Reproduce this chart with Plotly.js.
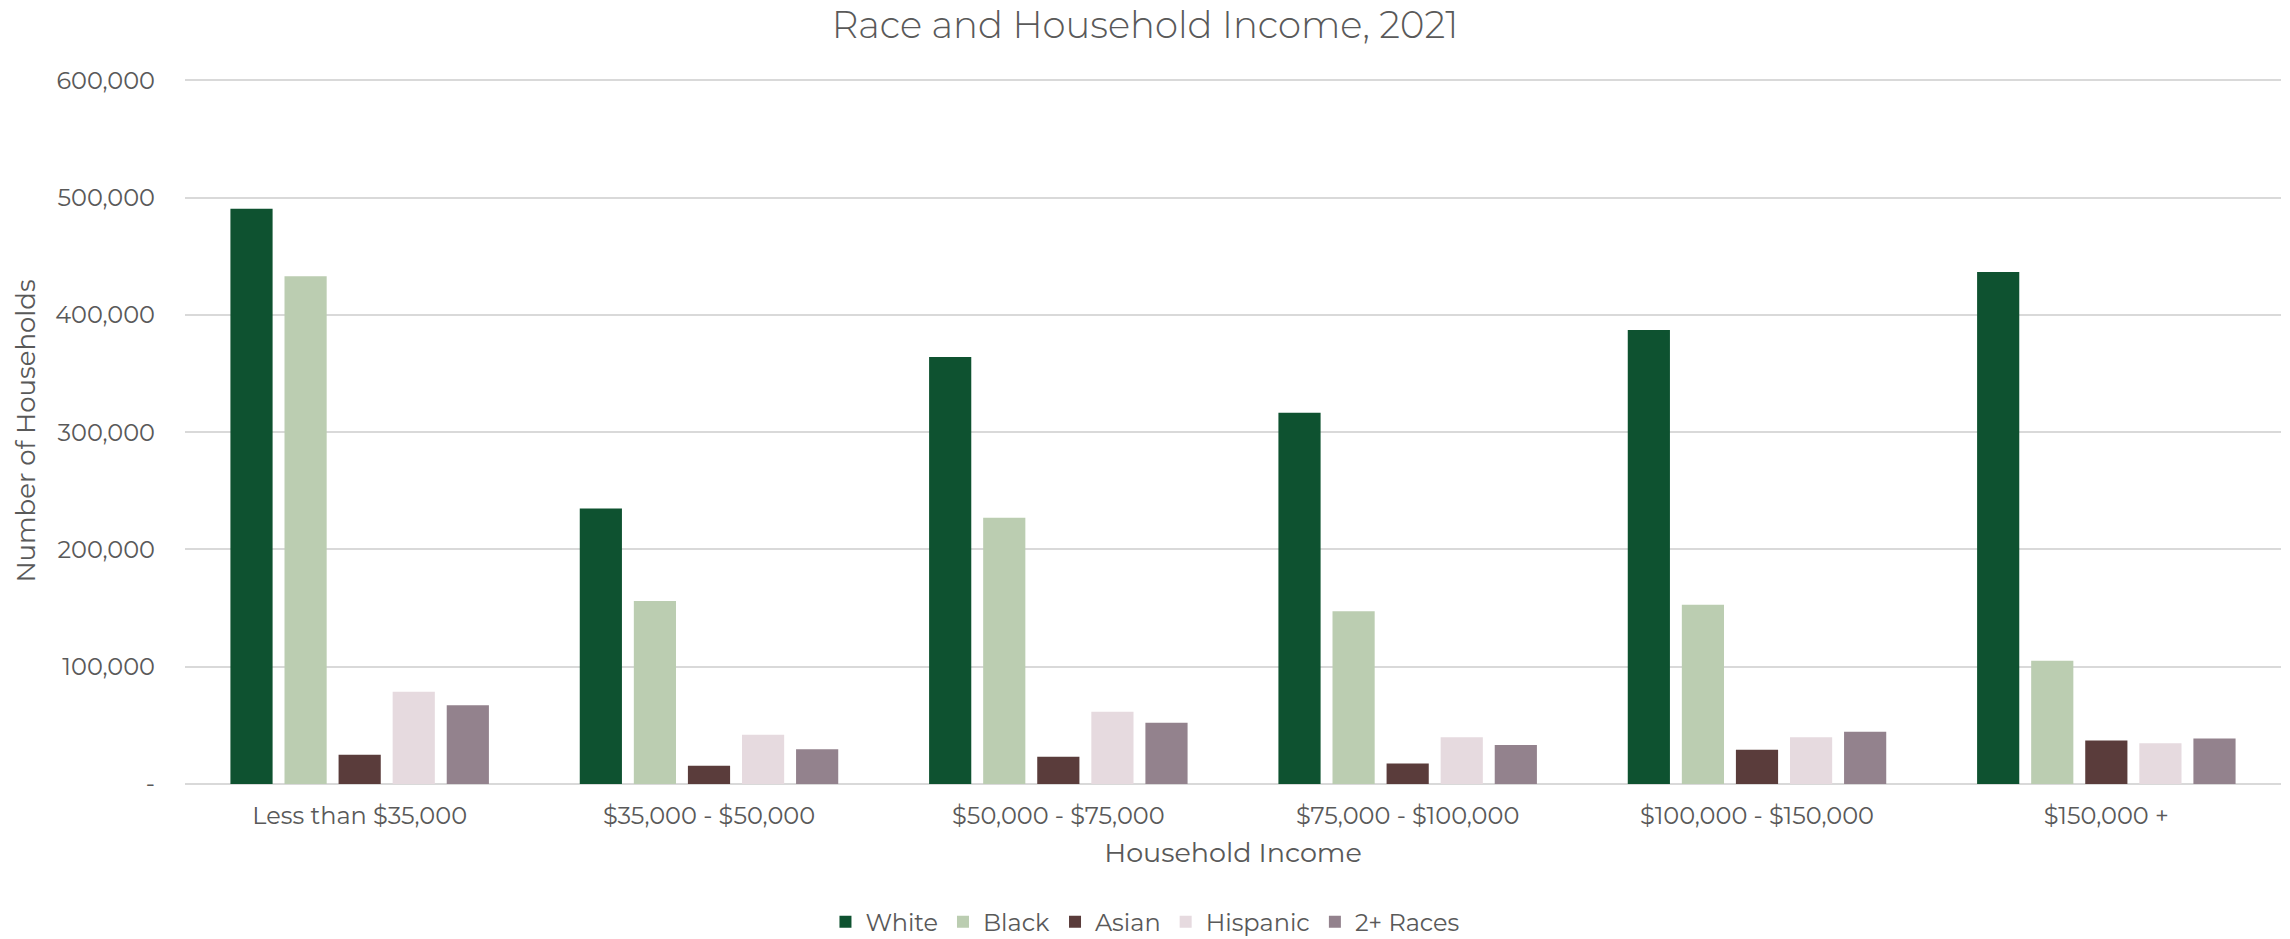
<!DOCTYPE html>
<html>
<head>
<meta charset="utf-8">
<script src="https://cdn.plot.ly/plotly-3.0.1.min.js"></script>
<style>html,body{margin:0;padding:0;background:#fff;}#chart{width:2290px;height:939px;}</style>
</head>
<body>
<div id="chart"></div>
<script>
const categories = ["Less than $35,000", "$35,000 - $50,000", "$50,000 - $75,000", "$75,000 - $100,000", "$100,000 - $150,000", "$150,000 +"];
const white    = [490600, 235000, 364000, 316500, 387100, 436500];
const black    = [432900, 156100, 227000, 147200, 152900, 105000];
const asian    = [24900, 15500, 23300, 17400, 29300, 37100];
const hispanic = [78600, 42100, 61600, 39800, 39800, 34700];
const twoPlus  = [67100, 29700, 52300, 33200, 44600, 38900];
const seriesNames = ["White", "Black", "Asian", "Hispanic", "2+ Races"];
const seriesColors = ["#0e5230", "#bbcdb1", "#5a3c3b", "#e6dadf", "#93828d"];
const yTickVals = [0, 100000, 200000, 300000, 400000, 500000, 600000];
const yTickText = ["-", "100,000", "200,000", "300,000", "400,000", "500,000", "600,000"];

const seriesData = [white, black, asian, hispanic, twoPlus];
const traces = seriesData.map((vals, i) => ({
  type: "bar",
  name: seriesNames[i],
  x: categories,
  y: vals,
  marker: {color: seriesColors[i]},
  hoverinfo: "x+y+name"
}));

const font = "Montserrat, 'Open Sans', sans-serif";
const layout = {
  width: 2290, height: 939,
  margin: {l: 185, r: 9, t: 78, b: 155, autoexpand: false},
  paper_bgcolor: "#ffffff", plot_bgcolor: "#ffffff",
  font: {family: font, color: "#595959", size: 24},
  title: {text: "Race and Household Income, 2021", font: {family: font, size: 37, color: "#595959", weight: 300}, x: 0.5, xanchor: "center", y: 0.973, yanchor: "middle"},
  barmode: "group",
  bargap: 0.226,
  bargroupgap: 0.22,
  xaxis: {
    type: "category",
    showgrid: false, zeroline: false, showline: false,
    ticks: "", ticklabelstandoff: 15, tickfont: {size: 24, color: "#595959"},
    title: {text: "Household Income", font: {size: 27, color: "#595959"}, standoff: 14}
  },
  yaxis: {
    range: [0, 602000],
    tickvals: yTickVals, ticktext: yTickText,
    showgrid: true, gridcolor: "#d9d9d9", gridwidth: 2,
    zeroline: true, zerolinecolor: "#d9d9d9", zerolinewidth: 2,
    showline: false, ticks: "", ticklen: 0, ticklabelstandoff: 29,
    tickfont: {size: 24, color: "#595959"},
    title: {text: "Number of Households", font: {size: 26, color: "#595959"}, standoff: 12}
  },
  legend: {
    orientation: "h", x: 0.458, xanchor: "center", xref: "paper",
    yref: "container", y: 0.018, yanchor: "middle",
    font: {size: 24, color: "#595959"}, traceorder: "normal", itemwidth: 30
  },
  showlegend: true
};

Plotly.newPlot("chart", traces, layout, {displayModeBar: false, responsive: false});
</script>
</body>
</html>
